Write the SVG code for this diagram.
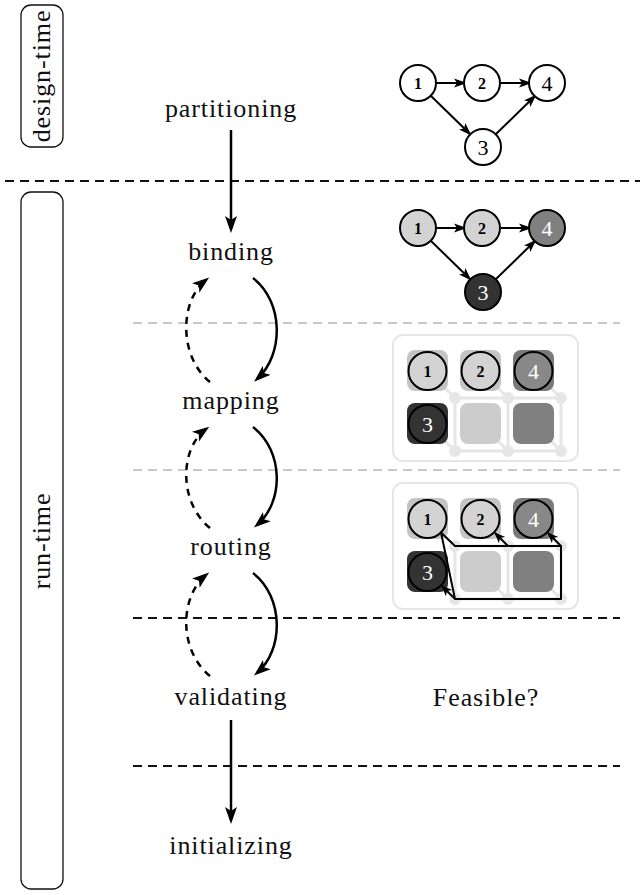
<svg xmlns="http://www.w3.org/2000/svg" width="644" height="895" viewBox="0 0 644 895">
<defs>
<style>
.lbl{font-family:"Liberation Serif","DejaVu Serif",serif;font-size:26px;letter-spacing:0.9px;fill:#111;text-anchor:middle}
.num{font-family:"Liberation Serif","DejaVu Serif",serif;text-anchor:middle}
.n12{font-size:16px;font-weight:bold}
.n34{font-size:22px}
.frame{fill:none;stroke:#111;stroke-width:1.3}
.dash{fill:none;stroke:#111;stroke-width:2;stroke-dasharray:9 6}
.gdash{fill:none;stroke:#c8c8c8;stroke-width:2;stroke-dasharray:9 6}
.flow{fill:none;stroke:#000;stroke-width:2.5}
.back{fill:none;stroke:#000;stroke-width:2.5;stroke-dasharray:7 6}
.edge{fill:none;stroke:#000;stroke-width:2}
.node{stroke:#000;stroke-width:2}
.box{fill:#fff;stroke:#e6e6e6;stroke-width:2}
.grid{fill:none;stroke:#e6e6e6;stroke-width:3}
.router{fill:#e6e6e6}
.route{fill:none;stroke:#000;stroke-width:2;stroke-linejoin:round}
</style>
<marker id="big" markerUnits="userSpaceOnUse" markerWidth="18" markerHeight="14" refX="13" refY="7" orient="auto">
<path d="M0,1 L17,7 L0,13 L4,7 Z" fill="#000"/>
</marker>
<marker id="small" markerUnits="userSpaceOnUse" markerWidth="14" markerHeight="10" refX="11" refY="5" orient="auto">
<path d="M0,0.5 L13,5 L0,9.5 L3,5 Z" fill="#000"/>
</marker>
<marker id="tiny" markerUnits="userSpaceOnUse" markerWidth="12" markerHeight="10" refX="10" refY="5" orient="auto">
<path d="M0,0.5 L11,5 L0,9.5 L3,5 Z" fill="#000"/>
</marker>
<filter id="soft" x="-10%" y="-10%" width="120%" height="120%"><feGaussianBlur stdDeviation="0.7"/></filter>
</defs>

<g id="phase-frames">
<rect class="frame" x="21" y="5" width="42" height="142" rx="10"/>
<text class="lbl" transform="translate(50,76) rotate(-90)">design-time</text>
<rect class="frame" x="21" y="192" width="42" height="697" rx="10"/>
<text class="lbl" transform="translate(50,541) rotate(-90)">run-time</text>
</g>

<g id="separators">
<line class="dash" x1="5" y1="181" x2="640" y2="181"/>
<line class="gdash" x1="133" y1="323" x2="620" y2="323"/>
<line class="gdash" x1="133" y1="470" x2="620" y2="470"/>
<line class="dash" x1="133" y1="618" x2="620" y2="618"/>
<line class="dash" x1="133" y1="766" x2="620" y2="766"/>
</g>

<g id="step-partitioning"><text class="lbl" x="231" y="117">partitioning</text></g>
<g id="step-binding"><text class="lbl" x="231" y="260">binding</text></g>
<g id="step-mapping"><text class="lbl" x="231" y="409">mapping</text></g>
<g id="step-routing"><text class="lbl" x="231" y="555">routing</text></g>
<g id="step-validating"><text class="lbl" x="231" y="705">validating</text></g>
<g id="step-initializing"><text class="lbl" x="231" y="854">initializing</text></g>
<g id="feasible"><text class="lbl" x="486" y="706">Feasible?</text></g>

<g id="connectors">
<path class="flow" d="M231,130 L231,229" marker-end="url(#big)"/>
<path class="flow" d="M231,720 L231,820" marker-end="url(#big)"/>
<path class="flow" d="M253,278 C284,302 284,355 257,379" marker-end="url(#big)"/>
<path class="back" d="M210,382 C178,356 180,300 206,280" marker-end="url(#big)"/>
<path class="flow" d="M253,427 C284,451 284,502 257,525" marker-end="url(#big)"/>
<path class="back" d="M210,528 C178,502 180,448 206,429" marker-end="url(#big)"/>
<path class="flow" d="M253,573 C284,597 284,650 257,673" marker-end="url(#big)"/>
<path class="back" d="M210,676 C178,650 180,596 206,575" marker-end="url(#big)"/>
</g>

<g id="task-graph">
<g class="edges">
<path class="edge" d="M436,83 L465,83" marker-end="url(#small)"/>
<path class="edge" d="M501,83 L530,83" marker-end="url(#small)"/>
<path class="edge" d="M431,96 L470,134" marker-end="url(#small)"/>
<path class="edge" d="M496,134 L535,96" marker-end="url(#small)"/>
</g>
<g id="tg-1"><circle class="node" cx="418" cy="83" r="18" fill="#fff"/><text class="num n12" x="418" y="89">1</text></g>
<g id="tg-2"><circle class="node" cx="482" cy="83" r="18" fill="#fff"/><text class="num n12" x="482" y="89">2</text></g>
<g id="tg-4"><circle class="node" cx="547" cy="83" r="18" fill="#fff"/><text class="num n34" x="547" y="91">4</text></g>
<g id="tg-3"><circle class="node" cx="483" cy="147" r="18" fill="#fff"/><text class="num n34" x="483" y="155">3</text></g>
</g>

<g id="bound-graph">
<g class="edges">
<path class="edge" d="M436,228 L465,228" marker-end="url(#small)"/>
<path class="edge" d="M501,228 L530,228" marker-end="url(#small)"/>
<path class="edge" d="M431,241 L470,279" marker-end="url(#small)"/>
<path class="edge" d="M496,279 L535,241" marker-end="url(#small)"/>
</g>
<g id="bg-1"><circle class="node" cx="418" cy="228" r="18" fill="#d3d3d3"/><text class="num n12" x="418" y="234">1</text></g>
<g id="bg-2"><circle class="node" cx="482" cy="228" r="18" fill="#d3d3d3"/><text class="num n12" x="482" y="234">2</text></g>
<g id="bg-4"><circle class="node" cx="547" cy="228" r="18" fill="#808080"/><text class="num n34" x="547" y="236" fill="#fff">4</text></g>
<g id="bg-3"><circle class="node" cx="483" cy="292" r="18" fill="#333"/><text class="num n34" x="483" y="300" fill="#fff">3</text></g>
</g>

<g id="mapping-grid">
<rect class="box" x="393" y="335" width="185" height="126" rx="10"/>
<path class="grid" d="M455,398 L561,398 M455,451 L561,451 M455,398 L455,451 M508,398 L508,451 M561,398 L561,451 M444,387 L455,398 M497,387 L508,398 M550,387 L561,398 M444,440 L455,451 M497,440 L508,451 M550,440 L561,451"/>
<g class="router"><circle cx="455" cy="398" r="6"/><circle cx="508" cy="398" r="6"/><circle cx="561" cy="398" r="6"/><circle cx="455" cy="451" r="6"/><circle cx="508" cy="451" r="6"/><circle cx="561" cy="451" r="6"/></g>
<g filter="url(#soft)">
<rect x="407" y="350" width="41" height="41" rx="8" fill="#c4c4c4"/>
<rect x="460" y="350" width="41" height="41" rx="8" fill="#c4c4c4"/>
<rect x="513" y="350" width="41" height="41" rx="8" fill="#7a7a7a"/>
<rect x="407" y="403" width="41" height="41" rx="8" fill="#333"/>
<rect x="460" y="403" width="41" height="41" rx="8" fill="#cccccc"/>
<rect x="513" y="403" width="41" height="41" rx="8" fill="#808080"/>
</g>
<g id="mg-1"><circle class="node" cx="427.5" cy="371" r="19" fill="#d3d3d3"/><text class="num n12" x="427.5" y="377">1</text></g>
<g id="mg-2"><circle class="node" cx="480.5" cy="371" r="19" fill="#d3d3d3"/><text class="num n12" x="480.5" y="377">2</text></g>
<g id="mg-4"><circle class="node" cx="533.5" cy="371" r="19" fill="#888"/><text class="num n34" x="533.5" y="379" fill="#fff">4</text></g>
<g id="mg-3"><circle class="node" cx="427.5" cy="424" r="19" fill="#333"/><text class="num n34" x="427.5" y="432" fill="#fff">3</text></g>
</g>

<g id="routing-grid">
<rect class="box" x="393" y="483" width="185" height="126" rx="10"/>
<path class="grid" d="M455,546 L561,546 M455,599 L561,599 M455,546 L455,599 M508,546 L508,599 M561,546 L561,599 M444,535 L455,546 M497,535 L508,546 M550,535 L561,546 M444,588 L455,599 M497,588 L508,599 M550,588 L561,599"/>
<g class="router"><circle cx="455" cy="546" r="6"/><circle cx="508" cy="546" r="6"/><circle cx="561" cy="546" r="6"/><circle cx="455" cy="599" r="6"/><circle cx="508" cy="599" r="6"/><circle cx="561" cy="599" r="6"/></g>
<g filter="url(#soft)">
<rect x="407" y="498" width="41" height="41" rx="8" fill="#c4c4c4"/>
<rect x="460" y="498" width="41" height="41" rx="8" fill="#c4c4c4"/>
<rect x="513" y="498" width="41" height="41" rx="8" fill="#7a7a7a"/>
<rect x="407" y="551" width="41" height="41" rx="8" fill="#333"/>
<rect x="460" y="551" width="41" height="41" rx="8" fill="#cccccc"/>
<rect x="513" y="551" width="41" height="41" rx="8" fill="#808080"/>
</g>
<g id="rg-1"><circle class="node" cx="427.5" cy="519" r="19" fill="#d3d3d3"/><text class="num n12" x="427.5" y="525">1</text></g>
<g id="rg-2"><circle class="node" cx="480.5" cy="519" r="19" fill="#d3d3d3"/><text class="num n12" x="480.5" y="525">2</text></g>
<g id="rg-4"><circle class="node" cx="533.5" cy="519" r="19" fill="#888"/><text class="num n34" x="533.5" y="527" fill="#fff">4</text></g>
<g id="rg-3"><circle class="node" cx="427.5" cy="572" r="19" fill="#333"/><text class="num n34" x="427.5" y="580" fill="#fff">3</text></g>
<g id="routes">
<path class="route" d="M441,532.5 L455,546 L561,546 L561,599 L455,599 Z"/>
<path class="route" d="M508,546 L495,533" marker-end="url(#tiny)"/>
<path class="route" d="M561,546 L548,533" marker-end="url(#tiny)"/>
<path class="route" d="M455,599 L442,586" marker-end="url(#tiny)"/>
</g>
</g>
</svg>
